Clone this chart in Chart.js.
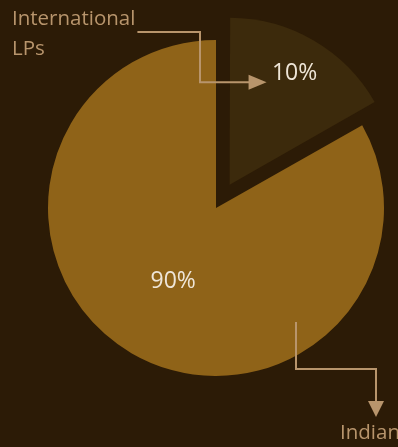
<!DOCTYPE html>
<html><head><meta charset="utf-8">
<script src="https://cdn.jsdelivr.net/npm/chart.js@4"></script>
<style>
html,body{margin:0;padding:0;background:#2c1b06;overflow:hidden}
#wrap{width:398px;height:447px;position:relative}
</style>
</head><body><div id="wrap"><canvas id="c" width="398" height="447"></canvas></div>
<script>
// ---- data ----
const categories = ['International LPs', 'Indian'];
const sliceShares = [16.8, 83.2];        // angular share as drawn in the picture
const valueLabels = ['10%', '90%'];      // printed value labels

// ---- styles ----
const sliceColors = ['#3c2a0c', '#8f6318'];
const tan = '#b8956c';
const labelWhite = '#efe6d8';
const FONT = '"Open Sans", "Noto Sans", sans-serif';

const calloutPlugin = {
  id: 'callouts',
  beforeDatasetsDraw(chart) {
    // keep the exploded slice the same radius as the rest of the pie
    const meta = chart.getDatasetMeta(0);
    const a = meta.data[0];
    const shift = (a.options.offset || 0) / 4;
    const fix = 1 - Math.sin(Math.min(Math.PI, a.circumference));
    a.outerRadius = meta.data[1].outerRadius - shift * fix - 1;
  },
  afterDatasetsDraw(chart) {
    const ctx = chart.ctx;
    const meta = chart.getDatasetMeta(0);
    const labelFrac = [0.768, 0.506];
    const pos = meta.data.map((arc, i) => {
      const p = arc.getProps(['x','y','startAngle','endAngle'], true);
      const R = meta.data[1].outerRadius;
      const mid = (p.startAngle + p.endAngle) / 2;
      const shift = (arc.options.offset || 0) / 4;
      const r = shift + labelFrac[i] * R;
      return {x: p.x + Math.cos(mid) * r, y: p.y + Math.sin(mid) * r, cx: p.x, cy: p.y};
    });
    ctx.save();
    // value labels
    ctx.fillStyle = labelWhite;
    ctx.font = '23px ' + FONT;
    ctx.textAlign = 'center';
    ctx.textBaseline = 'middle';
    valueLabels.forEach((t, i) => ctx.fillText(t, pos[i].x, pos[i].y));

    // category labels
    ctx.fillStyle = tan;
    ctx.font = '20.5px ' + FONT;
    ctx.textAlign = 'left';
    ctx.textBaseline = 'alphabetic';
    const intLines = categories[0].split(' ');
    intLines.forEach((ln, k) => ctx.fillText(ln, 12, 25 + k * 30));
    const w0 = ctx.measureText(intLines[0]).width;
    ctx.fillText(categories[1], 340, 439);

    // connectors
    const cx = pos[1].cx, cy = pos[1].cy;
    ctx.strokeStyle = tan;
    ctx.fillStyle = tan;
    ctx.lineWidth = 2;
    // International
    const tipX = pos[0].x - 28, tipY = pos[0].y + 9;
    const vx = cx - 16;
    ctx.beginPath();
    ctx.moveTo(12 + w0 + 2, 32);
    ctx.lineTo(vx, 32);
    ctx.lineTo(vx, tipY);
    ctx.lineTo(tipX - 16, tipY);
    ctx.stroke();
    ctx.beginPath();
    ctx.moveTo(tipX, tipY);
    ctx.lineTo(tipX - 18, tipY - 7.5);
    ctx.lineTo(tipX - 18, tipY + 7.5);
    ctx.closePath();
    ctx.fill();
    // Indian
    const sx = cx + 80, sy = cy + 114;
    const hy = cy + 161, ax = cx + 160, ay = cy + 209;
    ctx.beginPath();
    ctx.moveTo(sx, sy);
    ctx.lineTo(sx, hy);
    ctx.lineTo(ax, hy);
    ctx.lineTo(ax, ay - 14);
    ctx.stroke();
    ctx.beginPath();
    ctx.moveTo(ax, ay);
    ctx.lineTo(ax - 8, ay - 16);
    ctx.lineTo(ax + 8, ay - 16);
    ctx.closePath();
    ctx.fill();
    ctx.restore();
  }
};

new Chart(document.getElementById('c'), {
  type: 'pie',
  data: {
    labels: categories,
    datasets: [{
      data: sliceShares,
      backgroundColor: sliceColors,
      borderWidth: 0,
      offset: [108, 0]
    }]
  },
  options: {
    responsive: false,
    devicePixelRatio: 1,
    animation: false,
    radius: 168,
    layout: {padding: {left: 34, right: 0, top: 0, bottom: 31}},
    plugins: {legend: {display: false}, tooltip: {enabled: false}}
  },
  plugins: [calloutPlugin]
});
</script>
</body></html>
